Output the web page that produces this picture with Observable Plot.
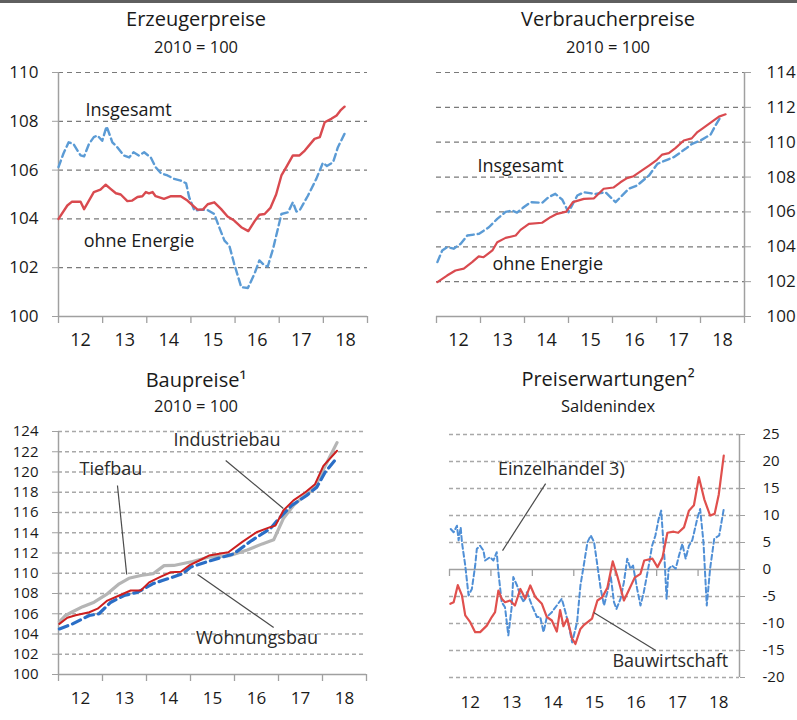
<!DOCTYPE html>
<html><head><meta charset="utf-8">
<script src="https://cdn.jsdelivr.net/npm/d3@7"></script>
<script src="https://cdn.jsdelivr.net/npm/@observablehq/plot@0.6"></script>
<style>
html,body{margin:0;padding:0;background:#fff;}
#root{position:relative;width:797px;height:720px;overflow:hidden;font-family:"Open Sans",sans-serif;color:#1a1a1a;}
#topbar{position:absolute;left:0;top:0;width:797px;height:3px;background:#5f5f5f;}
.panel{position:absolute;}
.title{position:absolute;white-space:nowrap;transform:translateX(-50%);font-size:20px;line-height:24px;}
.sub{position:absolute;white-space:nowrap;transform:translateX(-50%);font-size:16.5px;line-height:20px;}
</style></head><body><div id="root"><div id="topbar"></div></div>
<script>
// ---------- data (decimal year, value) ----------
const years = [2012, 2013, 2014, 2015, 2016, 2017, 2018, 2019];
const yearLabels = ["12", "13", "14", "15", "16", "17", "18"];

const erzInsgesamt = [[2012.0,106.12],[2012.11,106.67],[2012.23,107.14],[2012.34,107.07],[2012.5,106.6],[2012.58,106.56],[2012.69,107.07],[2012.8,107.35],[2012.88,107.42],[2012.99,107.2],[2013.09,107.79],[2013.22,107.14],[2013.33,106.94],[2013.48,106.6],[2013.6,106.52],[2013.7,106.73],[2013.82,106.6],[2013.94,106.73],[2014.09,106.52],[2014.2,106.12],[2014.32,105.87],[2014.47,105.78],[2014.62,105.64],[2014.77,105.57],[2014.89,105.46],[2014.96,104.89],[2015.08,104.34],[2015.23,104.38],[2015.38,104.36],[2015.53,104.2],[2015.64,103.66],[2015.76,103.11],[2015.87,102.9],[2015.98,102.16],[2016.14,101.2],[2016.29,101.17],[2016.44,101.75],[2016.55,102.3],[2016.67,102.09],[2016.74,102.05],[2016.86,102.77],[2017.05,104.2],[2017.2,104.27],[2017.31,104.68],[2017.39,104.3],[2017.46,104.34],[2017.65,104.95],[2017.84,105.64],[2017.99,106.3],[2018.08,106.17],[2018.22,106.32],[2018.33,106.94],[2018.48,107.49]];
const erzOhneEnergie = [[2012.0,104.0],[2012.2,104.55],[2012.3,104.7],[2012.5,104.7],[2012.58,104.4],[2012.69,104.75],[2012.8,105.1],[2012.95,105.2],[2013.07,105.4],[2013.18,105.23],[2013.3,105.05],[2013.41,105.0],[2013.56,104.73],[2013.67,104.75],[2013.79,104.9],[2013.9,104.93],[2013.98,105.1],[2014.05,105.05],[2014.13,105.1],[2014.2,104.93],[2014.39,104.82],[2014.55,104.93],[2014.77,104.93],[2014.92,104.75],[2015.04,104.55],[2015.15,104.38],[2015.27,104.38],[2015.38,104.6],[2015.53,104.68],[2015.68,104.41],[2015.83,104.1],[2015.98,103.93],[2016.14,103.66],[2016.3,103.5],[2016.44,103.9],[2016.55,104.17],[2016.67,104.2],[2016.8,104.45],[2016.93,105.0],[2017.05,105.78],[2017.16,106.12],[2017.31,106.6],[2017.46,106.6],[2017.58,106.8],[2017.8,107.28],[2017.92,107.35],[2018.03,107.96],[2018.18,108.1],[2018.3,108.24],[2018.4,108.47],[2018.48,108.6]];

const verbInsgesamt = [[2012.02,103.12],[2012.13,103.79],[2012.24,103.98],[2012.39,103.89],[2012.55,104.17],[2012.7,104.65],[2012.96,104.74],[2013.19,105.12],[2013.38,105.6],[2013.57,106.0],[2013.72,106.08],[2013.83,105.96],[2013.98,106.27],[2014.14,106.56],[2014.4,106.52],[2014.55,106.85],[2014.7,107.04],[2014.86,106.7],[2015.0,105.98],[2015.2,106.94],[2015.35,107.13],[2015.61,107.03],[2015.84,107.13],[2016.07,106.56],[2016.37,107.33],[2016.56,107.52],[2016.83,108.09],[2017.02,108.76],[2017.24,108.99],[2017.39,109.14],[2017.66,109.62],[2017.81,109.91],[2018.0,110.1],[2018.23,110.44],[2018.34,110.96],[2018.45,111.43]];
const verbOhneEnergie = [[2012.02,101.97],[2012.24,102.35],[2012.43,102.64],[2012.62,102.75],[2012.81,103.12],[2012.96,103.45],[2013.07,103.4],[2013.27,103.79],[2013.38,104.26],[2013.57,104.51],[2013.8,104.65],[2013.91,104.97],[2014.1,105.32],[2014.4,105.38],[2014.59,105.7],[2014.74,105.89],[2014.95,106.02],[2015.1,106.56],[2015.35,106.75],[2015.58,106.78],[2015.8,107.33],[2016.02,107.4],[2016.18,107.7],[2016.33,107.94],[2016.48,108.05],[2016.67,108.38],[2016.83,108.66],[2017.01,108.99],[2017.13,109.29],[2017.28,109.37],[2017.43,109.66],[2017.62,110.1],[2017.8,110.22],[2017.93,110.58],[2018.05,110.8],[2018.27,111.2],[2018.42,111.47],[2018.57,111.6]];

const bauTiefbau = [[2012.02,105.2],[2012.15,105.8],[2012.32,106.2],[2012.55,106.7],[2012.81,107.14],[2013.11,107.97],[2013.38,108.96],[2013.6,109.5],[2013.87,109.78],[2014.15,109.95],[2014.4,110.75],[2014.62,110.77],[2015.05,111.16],[2015.42,111.6],[2015.9,111.75],[2016.29,112.3],[2016.63,112.9],[2016.89,113.3],[2017.11,115.4],[2017.34,116.7],[2017.55,117.5],[2017.83,118.5],[2018.06,120.6],[2018.33,122.9]];
const bauIndustriebau = [[2012.02,105.0],[2012.2,105.6],[2012.39,105.85],[2012.7,106.15],[2012.89,106.5],[2013.11,107.3],[2013.38,107.8],[2013.64,108.3],[2013.87,108.3],[2014.06,109.1],[2014.29,109.6],[2014.55,110.1],[2014.78,110.15],[2014.97,110.77],[2015.2,111.26],[2015.42,111.75],[2015.86,112.08],[2016.17,113.07],[2016.5,114.05],[2016.81,114.55],[2016.93,114.7],[2017.11,116.2],[2017.34,117.2],[2017.61,118.0],[2017.83,118.8],[2018.02,120.6],[2018.33,122.1]];
const bauWohnungsbau = [[2012.02,104.5],[2012.32,105.0],[2012.7,105.83],[2012.92,106.0],[2013.19,107.14],[2013.49,107.8],[2013.8,108.13],[2014.14,108.96],[2014.36,109.28],[2014.59,109.6],[2014.82,109.95],[2015.0,110.6],[2015.42,111.2],[2015.98,111.92],[2016.39,113.23],[2016.81,114.39],[2017.04,115.54],[2017.3,116.7],[2017.64,117.68],[2017.87,118.5],[2018.06,119.98],[2018.31,121.3]];

const preisBauwirtschaft = [[2012.02,-6.35],[2012.1,-6.05],[2012.2,-2.9],[2012.3,-4.8],[2012.38,-8.5],[2012.5,-9.75],[2012.62,-11.6],[2012.74,-11.6],[2012.9,-10.4],[2013.02,-8.8],[2013.1,-7.9],[2013.18,-3.9],[2013.26,-5.4],[2013.34,-6.05],[2013.46,-5.74],[2013.58,-6.67],[2013.71,-3.6],[2013.83,-5.4],[2013.95,-2.96],[2014.07,-5.1],[2014.23,-6.35],[2014.35,-8.8],[2014.47,-9.44],[2014.59,-11.5],[2014.67,-7.5],[2014.75,-10.5],[2014.84,-9.1],[2014.96,-12.8],[2015.04,-13.8],[2015.16,-11],[2015.25,-10.25],[2015.44,-9.1],[2015.57,-5.74],[2015.69,-5.1],[2015.81,-3.4],[2015.94,1.5],[2016.05,-1.2],[2016.21,-5.74],[2016.33,-3.8],[2016.47,-1.5],[2016.61,-0.8],[2016.7,1.67],[2016.9,2.0],[2017.02,0.43],[2017.14,2.2],[2017.26,6.8],[2017.41,7.0],[2017.52,6.8],[2017.66,7.8],[2017.78,10.9],[2017.9,11.9],[2018.02,17.1],[2018.15,13.0],[2018.29,10.0],[2018.4,10.3],[2018.5,13.9],[2018.62,21.1]];
const preisEinzelhandel = [[2012.03,7.5],[2012.1,6.9],[2012.18,8.1],[2012.22,5.4],[2012.27,7.8],[2012.3,5.06],[2012.38,0.74],[2012.46,-4.8],[2012.54,-3.6],[2012.62,0.74],[2012.66,3.83],[2012.74,4.4],[2012.82,3.5],[2012.86,1.67],[2012.98,2.3],[2013.06,1.67],[2013.14,3.2],[2013.18,-0.5],[2013.26,-6.05],[2013.34,-7],[2013.42,-12.2],[2013.5,-7],[2013.54,-1.4],[2013.63,-2.96],[2013.71,-4.8],[2013.79,-6.05],[2013.87,-4.2],[2013.99,-6.67],[2014.11,-8.8],[2014.19,-8.8],[2014.27,-11.6],[2014.35,-8.8],[2014.47,-7.9],[2014.59,-6.67],[2014.71,-5.4],[2014.8,-7.9],[2014.88,-10.4],[2014.96,-13.5],[2015.08,-9.75],[2015.16,-2.96],[2015.24,0.74],[2015.33,5.06],[2015.41,6.3],[2015.49,5.06],[2015.57,0.74],[2015.65,-3.6],[2015.73,-6.67],[2015.81,-4.2],[2015.89,-1.1],[2015.97,-6.05],[2016.03,-7.3],[2016.13,-5.4],[2016.21,-2.35],[2016.29,2.0],[2016.37,0.12],[2016.43,0.74],[2016.53,-3.6],[2016.61,-6.67],[2016.69,-4.2],[2016.81,0.74],[2016.89,4.4],[2016.97,6.3],[2017.05,9.4],[2017.11,10.9],[2017.19,2.0],[2017.24,-5.4],[2017.29,0.12],[2017.37,0.74],[2017.46,0.12],[2017.54,2.6],[2017.62,4.75],[2017.7,2.0],[2017.78,4.4],[2017.86,5.4],[2017.98,9.4],[2018.05,11.2],[2018.13,5.06],[2018.21,-6.67],[2018.29,0.12],[2018.39,5.7],[2018.51,6.3],[2018.62,11.2]];

const erzTicks = [100, 102, 104, 106, 108, 110];
const verbTicks = [100, 102, 104, 106, 108, 110, 112, 114];
const bauTicks = [100, 102, 104, 106, 108, 110, 112, 114, 116, 118, 120, 122, 124];
const preisTicks = [-20, -15, -10, -5, 0, 5, 10, 15, 20, 25];

// ---------- annotations (label placement in data coordinates) ----------
const erzAnno = [{label: "Insgesamt", t: 2012.61, v: 108.45}, {label: "ohne Energie", t: 2012.57, v: 103.08}];
const verbAnno = [{label: "Insgesamt", t: 2012.93, v: 108.61}, {label: "ohne Energie", t: 2013.27, v: 103.01}];
const bauAnno = [{label: "Industriebau", t: 2015.83, v: 123.09}, {label: "Tiefbau", t: 2013.19, v: 120.23}, {label: "Wohnungsbau", t: 2016.51, v: 103.6}];
const bauLeaders = [{t1: 2013.34, v1: 118.67, t2: 2013.55, v2: 109.88}, {t1: 2015.8, v1: 121.14, t2: 2017.11, v2: 116.4}, {t1: 2015.16, v1: 109.88, t2: 2016.89, v2: 104.64}];
const preisAnno = [{label: "Einzelhandel 3)", t: 2014.7, v: 18.48}, {label: "Bauwirtschaft", t: 2017.33, v: -17.0}];
const preisLeaders = [{t1: 2014.32, v1: 15.9, t2: 2013.28, v2: 3.5}, {t1: 2015.48, v1: -7.96, t2: 2016.98, v2: -15.0}];

// ---------- helpers ----------
const FONT = '"Open Sans", sans-serif';
const AX = "#a0a0a0";
const TXT = "#1a1a1a";
const root = document.getElementById("root");
const style = {fontFamily: FONT, fontSize: "17px", color: TXT, background: "none", overflow: "visible"};
const X = d => d[0], Y = d => d[1];

function place(node, left, top) {
  node.style.position = "absolute";
  node.style.left = left + "px";
  node.style.top = top + "px";
  root.appendChild(node);
}
function addText(cls, txt, cx, top) {
  const d = document.createElement("div");
  d.className = cls; d.textContent = txt;
  d.style.left = cx + "px"; d.style.top = top + "px";
  root.appendChild(d);
}
function yearAxis(dy, size) {
  return [
    Plot.axisX(years, {tickSize: 7, stroke: AX, strokeWidth: 1.3, tickFormat: () => "", label: null}),
    Plot.text(yearLabels, {x: (d, i) => years[i] + 0.5, text: d => d, frameAnchor: "bottom", dy, fontSize: size, fill: TXT})
  ];
}

// ---------- Panel 1: Erzeugerpreise ----------
const p1 = Plot.plot({
  width: 398, height: 360, marginLeft: 58, marginRight: 31, marginTop: 72, marginBottom: 44,
  x: {domain: [2012, 2019], label: null}, y: {domain: [100, 110], label: null}, style,
  marks: [
    Plot.gridY(erzTicks.slice(1), {stroke: "#7a7a7a", strokeOpacity: 1, strokeWidth: 1.2, strokeDasharray: "5,4"}),
    Plot.ruleY([100], {stroke: AX, strokeWidth: 1.5}),
    Plot.ruleX([2012], {stroke: AX, strokeWidth: 1.5}),
    Plot.axisY(erzTicks, {tickSize: 6, tickPadding: 14, stroke: AX, fill: TXT, fontSize: 17, tickFormat: d => String(d), label: null}),
    ...yearAxis(29, 18),
    Plot.line(erzInsgesamt, {x: X, y: Y, stroke: "#5b9bd5", strokeWidth: 2.4, strokeDasharray: "7,4"}),
    Plot.line(erzOhneEnergie, {x: X, y: Y, stroke: "#d94a4f", strokeWidth: 2.4}),
    Plot.text(erzAnno, {x: "t", y: "v", text: "label", textAnchor: "start", fontSize: 18, fill: TXT})
  ]
});
place(p1, 0, 0);
addText("title", "Erzeugerpreise", 196, 7.2);
addText("sub", "2010 = 100", 196, 36.9);

// ---------- Panel 2: Verbraucherpreise ----------
const p2 = Plot.plot({
  width: 397, height: 360, marginLeft: 36, marginRight: 53, marginTop: 72, marginBottom: 44,
  x: {domain: [2012, 2019], label: null}, y: {domain: [100, 114], label: null}, style,
  marks: [
    Plot.gridY(verbTicks.slice(1), {stroke: "#7a7a7a", strokeOpacity: 1, strokeWidth: 1.2, strokeDasharray: "5,4"}),
    Plot.ruleY([100], {stroke: AX, strokeWidth: 1.5}),
    Plot.ruleX([2019], {stroke: AX, strokeWidth: 1.5}),
    Plot.axisY(verbTicks, {anchor: "right", tickSize: 6, tickPadding: 16, stroke: AX, fill: TXT, fontSize: 17, tickFormat: d => String(d), label: null}),
    ...yearAxis(29, 18),
    Plot.line(verbInsgesamt, {x: X, y: Y, stroke: "#5b9bd5", strokeWidth: 2.4, strokeDasharray: "7,4"}),
    Plot.line(verbOhneEnergie, {x: X, y: Y, stroke: "#d94a4f", strokeWidth: 2.2}),
    Plot.text(verbAnno, {x: "t", y: "v", text: "label", textAnchor: "start", fontSize: 18, fill: TXT})
  ]
});
place(p2, 400, 0);
addText("title", "Verbraucherpreise", 608, 7.2);
addText("sub", "2010 = 100", 608, 36.9);

// ---------- Panel 3: Baupreise ----------
const p3 = Plot.plot({
  width: 398, height: 360, marginLeft: 58, marginRight: 32, marginTop: 71, marginBottom: 46,
  x: {domain: [2012, 2019], label: null}, y: {domain: [100, 124], label: null}, style,
  marks: [
    Plot.gridY(bauTicks.slice(1), {stroke: "#a8a8a8", strokeOpacity: 1, strokeWidth: 1.5, strokeDasharray: "4,3"}),
    Plot.ruleY([100], {stroke: AX, strokeWidth: 1.5}),
    Plot.ruleX([2012], {stroke: AX, strokeWidth: 1.5}),
    Plot.axisY(bauTicks, {tickSize: 6, tickPadding: 14, stroke: AX, fill: TXT, fontSize: 15, tickFormat: d => String(d), label: null}),
    ...yearAxis(29.5, 17),
    Plot.line(bauTiefbau, {x: X, y: Y, stroke: "#b5b5b5", strokeWidth: 3.2}),
    Plot.line(bauWohnungsbau, {x: X, y: Y, stroke: "#2a6ec6", strokeWidth: 3.2, strokeDasharray: "9,5"}),
    Plot.line(bauIndustriebau, {x: X, y: Y, stroke: "#cc1f1f", strokeWidth: 2}),
    Plot.link(bauLeaders, {x1: "t1", y1: "v1", x2: "t2", y2: "v2", stroke: "#4a4a4a", strokeWidth: 1.2}),
    Plot.text(bauAnno, {x: "t", y: "v", text: "label", fontSize: 18, fill: "#2a2a2a"})
  ]
});
place(p3, 0, 360);
addText("title", "Baupreise¹", 196, 368.2);
addText("sub", "2010 = 100", 196, 396.3);

// ---------- Panel 4: Preiserwartungen ----------
const p4 = Plot.plot({
  width: 397, height: 360, marginLeft: 49, marginRight: 58, marginTop: 74, marginBottom: 43,
  x: {domain: [2012, 2019], axis: null, label: null}, y: {domain: [-20, 25], label: null}, style,
  marks: [
    Plot.gridY(preisTicks.filter(d => d !== 0), {stroke: "#a8a8a8", strokeOpacity: 1, strokeWidth: 1.5, strokeDasharray: "4,3"}),
    Plot.ruleY([0], {stroke: AX, strokeWidth: 1.5}),
    Plot.ruleX([2019], {stroke: AX, strokeWidth: 1.5}),
    Plot.ruleX(years.slice(0, -1), {y1: 0, y2: -1.3, stroke: AX, strokeWidth: 1.3}),
    Plot.axisY(preisTicks, {anchor: "right", tickSize: 5, tickPadding: 18, stroke: AX, fill: TXT, fontSize: 15, tickFormat: d => String(d), label: null}),
    Plot.text(yearLabels, {x: (d, i) => years[i] + 0.5, text: d => d, frameAnchor: "bottom", dy: 30, fontSize: 17, fill: TXT}),
    Plot.line(preisEinzelhandel, {x: X, y: Y, stroke: "#4f8fd6", strokeWidth: 2, strokeDasharray: "5,3"}),
    Plot.line(preisBauwirtschaft, {x: X, y: Y, stroke: "#e0504d", strokeWidth: 2.2}),
    Plot.link(preisLeaders, {x1: "t1", y1: "v1", x2: "t2", y2: "v2", stroke: "#4a4a4a", strokeWidth: 1.2}),
    Plot.text(preisAnno, {x: "t", y: "v", text: "label", fontSize: 18, fill: "#2a2a2a"})
  ]
});
place(p4, 400, 360);
addText("title", "Preiserwartungen²", 608, 367.2);
addText("sub", "Saldenindex", 608, 396.3);
</script></body></html>
